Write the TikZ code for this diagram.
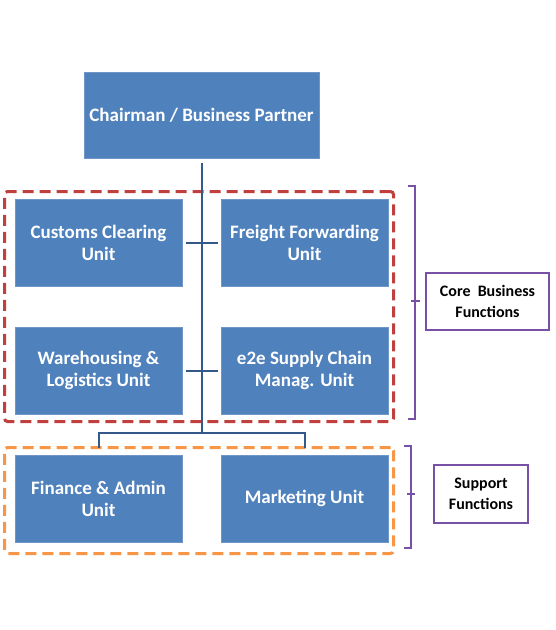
\documentclass[tikz,border=0pt]{standalone}
\usepackage{fontspec}
\setmainfont{Carlito}
\usepackage{tikz}
\usetikzlibrary{positioning, fit}
\definecolor{unitcolor}{RGB}{79,129,189}
\definecolor{unitborder}{RGB}{112,150,200}
\definecolor{linkcolor}{RGB}{52,90,140}
\definecolor{corecolor}{RGB}{192,64,64}
\definecolor{suppcolor}{RGB}{247,150,70}
\definecolor{brkcolor}{RGB}{120,80,165}

\begin{document}
\begin{tikzpicture}[x=1pt, y=1pt,
    unit/.style={
        draw=unitborder, line width=1pt, fill=unitcolor,
        minimum width=167pt, minimum height=87pt,
        align=center, text=white, inner sep=2pt,
        font=\fontsize{19}{22}\selectfont\bfseries
    },
    grp/.style={
        draw=#1, line width=3pt, dash pattern=on 11pt off 6pt,
        rounded corners=3pt, inner xsep=7.5pt, xshift=-2.5pt
    },
    lbl/.style={
        draw=brkcolor, line width=2pt, fill=white,
        align=center, inner sep=2pt,
        font=\fontsize{16}{21}\selectfont\bfseries
    },
    link/.style={draw=linkcolor, line width=2pt},
    brk/.style={draw=brkcolor, line width=2pt}
]
\useasboundingbox (0,0) rectangle (555,-630);

% =========================
% TOP
% =========================
\node[unit, minimum width=235pt, minimum height=86pt] (chair) at (201.5,-115)
 {Chairman / Business Partner};

% =========================
% CORE UNITS
% =========================
\node[unit] (cust) at (98.5,-242.5) {Customs Clearing\\Unit};
\node[unit, right=38pt of cust] (frt) {Freight Forwarding\\Unit};
\node[unit, below=40pt of cust] (ware) {Warehousing \&\\Logistics Unit};
\node[unit, right=38pt of ware] (e2e) {e2e Supply Chain\\Manag. Unit};

% =========================
% SUPPORT UNITS
% =========================
\node[unit, below=40pt of ware] (fin) {Finance \& Admin\\Unit};
\node[unit, right=38pt of fin] (mkt) {Marketing Unit};

% =========================
% FRAMES
% =========================
\node[grp=corecolor, fit=(cust)(e2e), inner ysep=7pt] (core) {};
\node[grp=suppcolor, fit=(fin)(mkt), inner ysep=9pt, yshift=-2pt] (supp) {};

% =========================
% LINKS
% =========================
\coordinate (bus) at (201.5,-433);
\draw[link, shorten <=4pt] (chair) -- (bus);
\draw[link, shorten <=7pt, shorten >=7pt] (fin.north) |- (bus) -| (mkt.north);
\draw[link, shorten <=3pt, shorten >=3pt] (cust) -- (frt);
\draw[link, shorten <=3pt, shorten >=3pt] (ware) -- (e2e);

% =========================
% BRACKETS + LABELS
% =========================
\node[lbl, minimum width=123pt, minimum height=57pt] (corelbl) at (487.5,-301)
 {Core~~Business\\Functions};
\node[lbl, minimum width=94pt, minimum height=58pt] (supplbl) at (481,-494)
 {Support\\Functions};

\draw[brk] ([shift={(13pt,4pt)}]core.north east) -- ++(7pt,0)
 |- ([shift={(13pt,4pt)}]core.south east);
\draw[brk] ([xshift=-14pt]corelbl.west) -- ([xshift=-5pt]corelbl.west);

\draw[brk] ([xshift=9pt]supp.north east) -- ++(7pt,0)
 |- ([shift={(9pt,7pt)}]supp.south east);
\draw[brk] ([xshift=-26pt]supplbl.west) -- ([xshift=-18pt]supplbl.west);

\end{tikzpicture}
\end{document}
